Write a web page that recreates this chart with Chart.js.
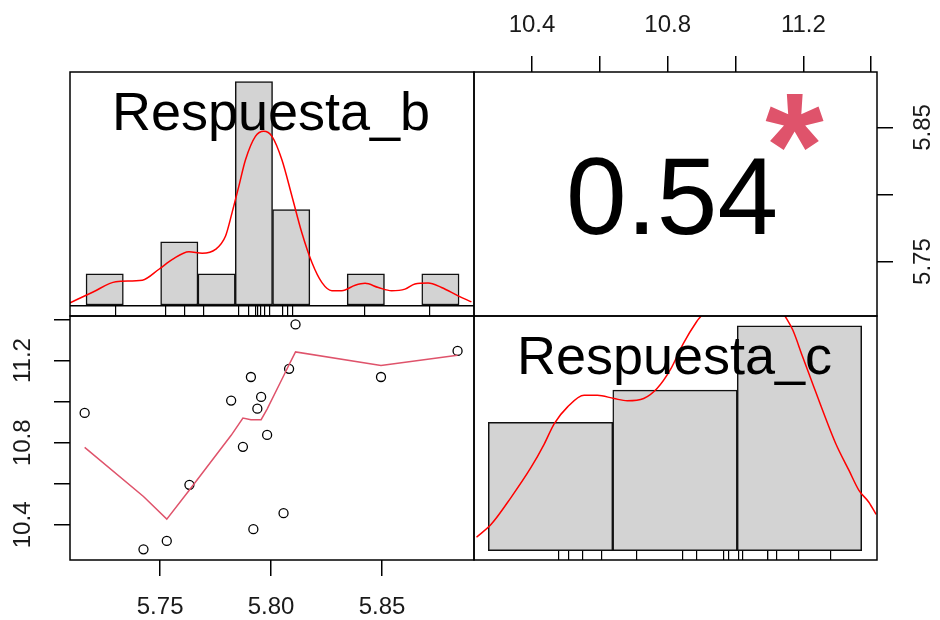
<!DOCTYPE html>
<html>
<head>
<meta charset="utf-8">
<script src="https://cdn.jsdelivr.net/npm/chart.js@4"></script>
<style>
  body { margin: 0; background: #fff; }
  #wrap { position: relative; width: 940px; height: 620px; }
  #wrap canvas { position: absolute; left: 0; top: 0; }
</style>
</head>
<body>
<div id="wrap">
  <canvas id="histB" width="940" height="620"></canvas>
  <canvas id="scatter" width="940" height="620"></canvas>
  <canvas id="histC" width="940" height="620"></canvas>
  <canvas id="corr" width="940" height="620"></canvas>
</div>
<script>
const respB = [5.716, 5.7425, 5.753, 5.7632, 5.782, 5.7873, 5.7909, 5.792, 5.7938, 5.7955, 5.7982, 5.8056, 5.8081, 5.811, 5.8495, 5.884]
const respC = [10.945, 10.281, 10.322, 10.595, 11.005, 10.78, 11.12, 10.379, 10.966, 11.023, 10.838, 10.457, 11.16, 11.376, 11.12, 11.247]

// lowess smooth at each sorted b value
const lowessC = [10.777, 10.538, 10.428, 10.57, 10.836, 10.92, 10.912, 10.912, 10.912, 10.912, 10.964, 11.125, 11.18, 11.242, 11.176, 11.226]

// histograms
const bBreaks = [5.70, 5.72, 5.74, 5.76, 5.78, 5.80, 5.82, 5.84, 5.86, 5.88, 5.90]
const bCounts = [1, 0, 2, 1, 7, 3, 0, 1, 0, 1]
const cBreaks = [10.0, 10.5, 11.0, 11.5]
const cCounts = [4, 5, 7]

// density curves (scaled to counts)
const densBx = [5.691, 5.7035, 5.716, 5.7302, 5.7391, 5.7463, 5.7552, 5.7623, 5.7694, 5.7748, 5.7783, 5.7819, 5.7855, 5.7908, 5.7953, 5.7997, 5.805, 5.8104, 5.8157, 5.8211, 5.8264, 5.8318, 5.8371, 5.8443, 5.8496, 5.8567, 5.8638, 5.871, 5.8763, 5.8834, 5.8906, 5.8995, 5.9066]
const densBy = [0.08, 0.42, 0.75, 0.80, 1.14, 1.45, 1.69, 1.64, 1.76, 2.18, 2.91, 3.73, 4.56, 5.29, 5.45, 5.29, 4.56, 3.42, 2.28, 1.35, 0.73, 0.47, 0.47, 0.64, 0.70, 0.57, 0.47, 0.52, 0.68, 0.71, 0.57, 0.31, 0.12]
const densCx = [9.9526, 10.0124, 10.0923, 10.1721, 10.2251, 10.265, 10.3185, 10.3848, 10.4382, 10.5045, 10.558, 10.6242, 10.6777, 10.7307, 10.7838, 10.8373, 10.8572, 10.9434, 11.0232, 11.103, 11.1896, 11.2228, 11.2627, 11.3026, 11.3425, 11.396, 11.449, 11.4889, 11.5288, 11.5579]
const densCy = [0.42, 0.83, 1.67, 2.60, 3.33, 3.96, 4.48, 4.84, 4.84, 4.74, 4.67, 4.74, 5.05, 5.63, 6.46, 7.14, 7.34, 8.6, 9.0, 8.5, 7.34, 6.88, 6.04, 5.21, 4.38, 3.33, 2.50, 1.88, 1.51, 1.13]

// tick labels
const bTicks = [5.75, 5.80, 5.85]
const cTicks = [10.4, 10.6, 10.8, 11.0, 11.2, 11.4]

const corrLabel = '0.54'
const starLabel = '*'

// axis limits
const bRange = [5.7094, 5.8914]
const cRange = [10.229, 11.417]
const histBRange = [5.6914, 5.908]
const histCRange = [9.9425, 11.5615]

const FONT = '"Liberation Sans", Arial, sans-serif'
Chart.defaults.font.family = FONT

const pts = (xs, ys) => xs.map((x, i) => ({ x: x, y: ys[i] }))
const mids = br => br.slice(1).map((b, i) => (b + br[i]) / 2)

const framePlugin = {
  id: 'frame',
  afterDraw(chart) {
    const a = chart.chartArea, ctx = chart.ctx
    ctx.save()
    ctx.strokeStyle = '#000'
    ctx.lineWidth = 1.5
    ctx.strokeRect(a.left, a.top, a.right - a.left, a.bottom - a.top)
    ctx.restore()
  }
}

const diagLabel = {
  id: 'diagLabel',
  afterDatasetsDraw(chart, args, opts) {
    const a = chart.chartArea, ctx = chart.ctx
    ctx.save()
    ctx.font = '54px ' + FONT
    ctx.fillStyle = '#000'
    ctx.textAlign = 'center'
    ctx.textBaseline = 'alphabetic'
    ctx.fillText(opts.text, (a.left + a.right) / 2 - 1, a.top + 58)
    ctx.restore()
  }
}

const corrText = {
  id: 'corrText',
  afterDraw(chart) {
    const a = chart.chartArea, ctx = chart.ctx
    const w = a.right - a.left, h = a.bottom - a.top
    ctx.save()
    ctx.fillStyle = '#000'
    ctx.font = '109px ' + FONT
    ctx.textAlign = 'left'
    ctx.textBaseline = 'alphabetic'
    let m = ctx.measureText(corrLabel)
    let cx = a.left + w * 0.493, cy = a.top + h * 0.507
    ctx.fillText(corrLabel, cx - (m.actualBoundingBoxRight - m.actualBoundingBoxLeft) / 2,
      cy + (m.actualBoundingBoxAscent - m.actualBoundingBoxDescent) / 2)
    // significance star
    ctx.fillStyle = '#DF536B'
    ctx.font = 'bold 150px ' + FONT
    m = ctx.measureText(starLabel)
    cx = a.left + w * 0.796
    cy = a.top + h * 0.209
    ctx.fillText(starLabel, cx - (m.actualBoundingBoxRight - m.actualBoundingBoxLeft) / 2,
      cy + (m.actualBoundingBoxAscent - m.actualBoundingBoxDescent) / 2)
    ctx.restore()
  }
}

const tickFont = { size: 24, family: FONT }

function base(padding) {
  return {
    responsive: false,
    animation: false,
    devicePixelRatio: 1,
    layout: { padding: padding },
    plugins: { legend: { display: false }, tooltip: { enabled: false } }
  }
}

// hidden bin axis: its ticks sit on the breaks so bars get the full bin width
function binAxis(range, breaks) {
  return {
    type: 'linear', min: range[0], max: range[1], offset: false,
    ticks: { display: false, autoSkip: false },
    border: { display: false },
    grid: { display: false, offset: false },
    afterBuildTicks: s => { s.ticks = breaks.map(v => ({ value: v })) },
    afterFit: s => { s.height = 0 }
  }
}

// rug: tick marks at the data values, drawn upwards into the panel
function rugAxis(range, values) {
  return {
    axis: 'x', type: 'linear', position: 'bottom', min: range[0], max: range[1], offset: false,
    ticks: { display: false, autoSkip: false },
    border: { display: false },
    grid: { offset: false, drawOnChartArea: false, drawTicks: true, tickLength: -10, color: '#000', lineWidth: 1.2 },
    afterBuildTicks: s => { s.ticks = values.map(v => ({ value: v })) },
    afterFit: s => { s.height = 0 }
  }
}

function labelAxis(position, range, ticks, everyOther, digits, size, pad) {
  const vertical = position === 'left' || position === 'right'
  return {
    type: 'linear', position: position, min: range[0], max: range[1], offset: false,
    border: { display: false },
    grid: { drawOnChartArea: false, drawTicks: true, tickLength: 16, color: '#000', lineWidth: 1.5 },
    ticks: {
      font: tickFont, color: '#1a1a1a', autoSkip: false, padding: pad,
      minRotation: vertical ? 90 : 0, maxRotation: vertical ? 90 : 0,
      crossAlign: vertical ? 'center' : 'near',
      callback: (v, i) => (everyOther && i % 2 === 1) ? '' : Number(v).toFixed(digits)
    },
    afterBuildTicks: s => { s.ticks = ticks.map(v => ({ value: v })) },
    afterFit: s => { if (vertical) s.width = size; else s.height = size }
  }
}

function histDatasets(dx, dy, breaks, counts) {
  return [
    { type: 'line', data: pts(dx, dy), borderColor: '#FF0000', borderWidth: 1.5, pointRadius: 0, cubicInterpolationMode: 'monotone', order: 0 },
    { type: 'bar', data: pts(mids(breaks), counts), backgroundColor: '#D3D3D3', borderColor: '#111', borderWidth: 1.5, borderSkipped: false, barPercentage: 1, categoryPercentage: 1, order: 1 }
  ]
}

// top-left: histogram of Respuesta_b
const opt1 = base({ left: 70, top: 72, right: 466, bottom: 304 })
opt1.scales = {
  x: binAxis(histBRange, bBreaks),
  xr: rugAxis(histBRange, respB),
  y: {
    type: 'linear', min: -0.32, max: 7.3,
    ticks: { display: false }, border: { display: false },
    grid: { color: '#000', lineWidth: 1.5, drawTicks: false },
    afterBuildTicks: s => { s.ticks = [{ value: 0 }] },
    afterFit: s => { s.width = 0 }
  }
}
opt1.plugins.diagLabel = { text: 'Respuesta_b' }
new Chart(document.getElementById('histB'), {
  type: 'bar',
  data: { datasets: histDatasets(densBx, densBy, bBreaks, bCounts) },
  options: opt1,
  plugins: [framePlugin, diagLabel]
})

// bottom-left: scatter with lowess
const opt2 = base({ left: 0, top: 316, right: 466, bottom: 0 })
opt2.scales = {
  x: labelAxis('bottom', bRange, bTicks, false, 2, 60, 17),
  y: labelAxis('left', cRange, cTicks, true, 1, 70, 7)
}
new Chart(document.getElementById('scatter'), {
  type: 'scatter',
  data: {
    datasets: [
      { data: pts(respB, lowessC), showLine: true, borderColor: '#DF536B', borderWidth: 1.5, pointRadius: 0, order: 0 },
      { data: pts(respB, respC), pointStyle: 'circle', pointRadius: 4.5, borderColor: '#000', backgroundColor: 'rgba(0,0,0,0)', borderWidth: 1.3, order: 1 }
    ]
  },
  options: opt2,
  plugins: [framePlugin]
})

// bottom-right: histogram of Respuesta_c
const opt3 = base({ left: 474, top: 316, right: 63, bottom: 60 })
opt3.scales = {
  x: binAxis(histCRange, cBreaks),
  xr: rugAxis(histCRange, respC),
  y: { type: 'linear', min: -0.29, max: 7.31, display: false }
}
opt3.plugins.diagLabel = { text: 'Respuesta_c' }
new Chart(document.getElementById('histC'), {
  type: 'bar',
  data: { datasets: histDatasets(densCx, densCy, cBreaks, cCounts) },
  options: opt3,
  plugins: [framePlugin, diagLabel]
})

// top-right: correlation
const opt4 = base({ left: 474, top: 0, right: 0, bottom: 304 })
opt4.scales = {
  x: labelAxis('top', cRange, cTicks, true, 1, 72, 16),
  y: labelAxis('right', bRange, bTicks, true, 2, 63, 7)
}
new Chart(document.getElementById('corr'), {
  type: 'scatter',
  data: { datasets: [] },
  options: opt4,
  plugins: [framePlugin, corrText]
})
</script>
</body>
</html>
